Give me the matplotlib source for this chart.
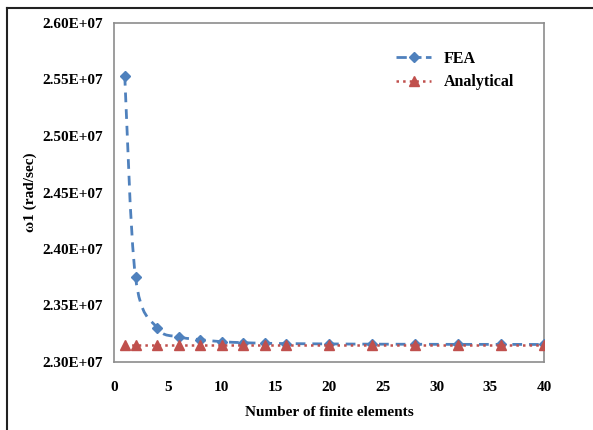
import numpy as np
import matplotlib
matplotlib.use("Agg")
import matplotlib.pyplot as plt
from matplotlib.path import Path
from matplotlib.patches import PathPatch
from matplotlib.lines import Line2D
from matplotlib.ticker import FuncFormatter

# number of finite elements
n_elem = [1, 2, 4, 6, 8, 10, 12, 14, 16, 20, 24, 28, 32, 36, 40]
# first natural frequency [rad/sec]
fea = [2.5532e7, 2.3752e7, 2.3302e7, 2.3223e7, 2.3198e7, 2.3180e7, 2.3171e7,
       2.3166e7, 2.3163e7, 2.3160e7, 2.3158e7, 2.3157e7, 2.3156e7, 2.3156e7, 2.3155e7]
analytical = [2.3152e7] * len(n_elem)

blue = '#4F81BD'
red = '#C0504D'
grey = '#8C8C8C'

plt.rcParams['font.family'] = ['Liberation Serif', 'DejaVu Serif']
plt.rcParams['font.weight'] = 'bold'

fig = plt.figure(figsize=(5.93, 4.30), dpi=100)
ax = fig.add_axes([114/593, 1 - 362/430, (544-114)/593, (362-23)/430])

# smooth curve through the FEA points (Excel style, Catmull-Rom -> Bezier)
x = np.array(n_elem, dtype=float)
y = np.array(fea)
verts = [(x[0], y[0])]
codes = [Path.MOVETO]
for i in range(len(x) - 1):
    p0 = (x[i-1], y[i-1]) if i > 0 else (x[i], y[i])
    p3 = (x[i+2], y[i+2]) if i + 2 < len(x) else (x[i+1], y[i+1])
    c1 = (x[i] + (x[i+1] - p0[0]) / 6, y[i] + (y[i+1] - p0[1]) / 6)
    c2 = (x[i+1] - (p3[0] - x[i]) / 6, y[i+1] - (p3[1] - y[i]) / 6)
    verts += [c1, c2, (x[i+1], y[i+1])]
    codes += [Path.CURVE4] * 3
curve = PathPatch(Path(verts, codes), facecolor='none', edgecolor=blue,
                  lw=2, linestyle=(0, (3.5, 2.5)), zorder=2)
ax.add_patch(curve)
ax.plot(n_elem, fea, linestyle='none', marker='D', color=blue, ms=5.5, zorder=3)

ax.plot(n_elem, analytical, linestyle=':', color=red, lw=1.8,
        marker='^', ms=7.5, zorder=4)

ax.set_xlim(0, 40)
ax.set_ylim(2.30e7, 2.60e7)
ax.set_xticks(range(0, 41, 5))
ax.set_yticks(np.arange(2.30e7, 2.6001e7, 0.05e7))
ax.yaxis.set_major_formatter(FuncFormatter(lambda v, p: f'{v/1e7:.2f}E+07'))
ax.tick_params(length=0, labelsize=11)
ax.tick_params(axis='x', pad=14)
ax.tick_params(axis='y', pad=8)
for lab in ax.get_xticklabels() + ax.get_yticklabels():
    lab.set_fontweight('bold')
for s in ax.spines.values():
    s.set_color(grey)
    s.set_linewidth(1.2)

ax.set_xlabel('Number of finite elements', fontsize=11, fontweight='bold', labelpad=8)
ax.set_ylabel('ω1 (rad/sec)', fontsize=11, fontweight='bold', labelpad=4)

handles = [Line2D([], [], color=blue, lw=2, linestyle='--', marker='D', ms=5.5),
           Line2D([], [], color=red, lw=1.8, linestyle=':', marker='^', ms=7.5)]
ax.legend(handles, ['FEA', 'Analytical'], loc='upper right', frameon=False,
          bbox_to_anchor=(0.965, 0.96), prop={'weight': 'bold', 'size': 11.5},
          handlelength=2.2, labelspacing=0.45)

# outer frame (top and left only)
fig.add_artist(Line2D([7/593, 1], [1 - 8/430, 1 - 8/430], color='#222222', lw=1.5))
fig.add_artist(Line2D([7/593, 7/593], [0, 1 - 8/430], color='#222222', lw=1.5))

fig.savefig('out.png', dpi=100)
